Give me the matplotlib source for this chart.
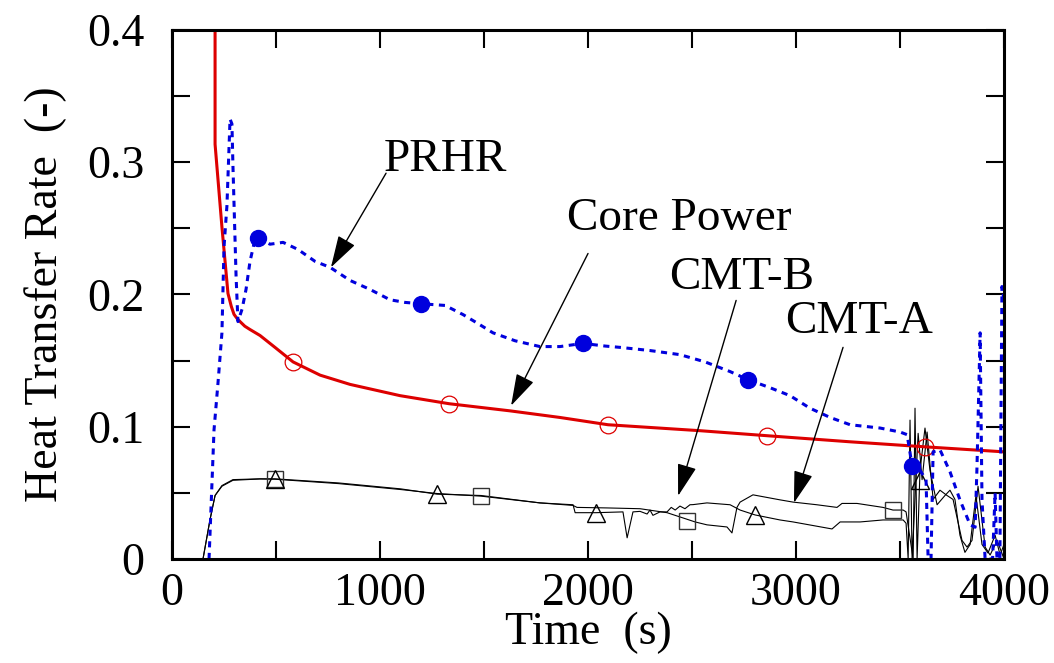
import matplotlib
matplotlib.use("Agg")
import matplotlib.pyplot as plt
from matplotlib.ticker import MultipleLocator, FuncFormatter

plt.rcParams['font.family'] = ['Liberation Serif', 'DejaVu Serif']

# ---- data ----
# core power (red solid)
core_t = [207, 207, 240, 269, 285, 298, 312, 327, 350, 375, 423, 495, 582, 712, 856,
          1096, 1332, 1625, 1865, 2096, 2538, 2861, 3260, 3620, 4000]
core_v = [0.45, 0.3136, 0.251, 0.2008, 0.191, 0.185, 0.182, 0.1795, 0.176, 0.1735,
          0.169, 0.160, 0.149, 0.139, 0.132, 0.1235, 0.1174, 0.112, 0.107, 0.1015,
          0.097, 0.0932, 0.0886, 0.0848, 0.081]

# PRHR (blue dotted)
prhr_t = [178, 202, 221, 240, 250, 264, 279, 288, 293, 308, 317, 337, 356, 375, 399,
          413, 471, 534, 606, 688, 760, 856, 952, 1048, 1120, 1197, 1313, 1399, 1471,
          1543, 1649, 1769, 1865, 1976, 2082, 2154, 2298, 2442, 2563, 2683, 2769, 2875,
          2971, 3067, 3164, 3260, 3404, 3500, 3534, 3558, 3596, 3625, 3635, 3649, 3659,
          3692, 3740, 3788, 3837, 3861, 3870, 3885, 3894, 3909, 3945, 3957, 3966, 3980,
          3990, 4000]
prhr_v = [0.0, 0.0977, 0.133, 0.171, 0.236, 0.267, 0.3326, 0.329, 0.297, 0.2136,
          0.1795, 0.189, 0.204, 0.225, 0.2417, 0.243, 0.238, 0.2394, 0.234, 0.225,
          0.2205, 0.2106, 0.2038, 0.196, 0.194, 0.193, 0.1917, 0.1848, 0.178, 0.171,
          0.165, 0.1606, 0.1606, 0.163, 0.161, 0.160, 0.1576, 0.1545, 0.149, 0.1417,
          0.1356, 0.1295, 0.1235, 0.114, 0.107, 0.1015, 0.099, 0.096, 0.094, 0.0705,
          0.067, 0.06, 0.0, 0.0, 0.081, 0.0826, 0.066, 0.0447, 0.0258, 0.024, 0.07,
          0.171, 0.045, 0.0, 0.0, 0.05, 0.0, 0.0, 0.206, 0.196]

# CMT-A (thin black, squares)
cmta_t = [149, 183, 207, 240, 293, 423, 495, 800, 1100, 1274, 1486, 1769, 1928, 1947,
          2091, 2250, 2380, 2515, 2572, 2668, 2692, 2716, 2731, 2793, 2923, 2986, 3100,
          3197, 3221, 3293, 3418, 3466, 3515, 3529, 3563, 3572, 3582, 3596, 3620, 3644,
          3678, 3716, 3740, 3764, 3788, 3812, 3837, 3865, 3894, 3923, 3957, 3981, 4000]
cmta_v = [0.0, 0.030, 0.048, 0.055, 0.0595, 0.0605, 0.0603, 0.057, 0.0525, 0.0495,
          0.0475, 0.0424, 0.0405, 0.039, 0.0386, 0.038, 0.035, 0.028, 0.0258, 0.0242,
          0.0197, 0.039, 0.043, 0.0485, 0.0447, 0.043, 0.041, 0.039, 0.042, 0.042,
          0.039, 0.037, 0.037, 0.0356, 0.0, 0.114, 0.0, 0.067, 0.099, 0.067, 0.041,
          0.048, 0.052, 0.045, 0.018, 0.005, 0.011, 0.048, 0.011, 0.0045, 0.018,
          0.003, 0.011]

# CMT-B (thin black, triangles)
cmtb_t = [149, 183, 207, 240, 293, 423, 495, 800, 1100, 1274, 1486, 1769, 1928, 1938,
          2038, 2168, 2188, 2216, 2250, 2284, 2298, 2312, 2346, 2380, 2400, 2419, 2442,
          2466, 2490, 2505, 2572, 2683, 2731, 2803, 2923, 2986, 3173, 3212, 3308, 3418,
          3515, 3529, 3539, 3548, 3558, 3587, 3606, 3630, 3659, 3692, 3726, 3755, 3798,
          3822, 3846, 3875, 3909, 3933, 3967, 4000]
cmtb_v = [0.0, 0.030, 0.048, 0.0555, 0.060, 0.0606, 0.0606, 0.0575, 0.053, 0.049,
          0.048, 0.0424, 0.041, 0.035, 0.035, 0.0356, 0.016, 0.0356, 0.036, 0.034,
          0.037, 0.033, 0.0356, 0.0356, 0.039, 0.037, 0.040, 0.038, 0.041, 0.0411,
          0.0424, 0.041, 0.037, 0.0333, 0.0295, 0.028, 0.0227, 0.028, 0.028, 0.0295,
          0.0295, 0.027, 0.0, 0.105, 0.0, 0.095, 0.06, 0.096, 0.045, 0.052, 0.048,
          0.045, 0.014, 0.009, 0.014, 0.055, 0.009, 0.003, 0.014, 0.0]

# symbols drawn on the curves
prhr_mk_t = [413, 1197, 1976, 2769, 3558]
prhr_mk_v = [0.243, 0.193, 0.163, 0.1356, 0.0705]
core_mk_t = [582, 1332, 2096, 2861, 3620]
core_mk_v = [0.149, 0.1174, 0.1015, 0.0932, 0.0848]
cmta_mk_t = [495, 1486, 2476, 3466]
cmta_mk_v = [0.0606, 0.0477, 0.0288, 0.0371]
cmtb_mk_t = [495, 1274, 2038, 2803, 3596]
cmtb_mk_v = [0.0606, 0.049, 0.0348, 0.0333, 0.0598]

# labels with their arrows
labels = ["PRHR", "Core Power", "CMT-B", "CMT-A"]
label_xy = [(1313, 0.302), (2440, 0.257), (2740, 0.213), (3305, 0.179)]
arrow_from = [(1029, 0.2917), (2000, 0.231), (2712, 0.1955), (3226, 0.160)]
arrow_to = [(764, 0.2205), (1630, 0.1159), (2433, 0.0477), (2990, 0.0424)]

fig = plt.figure(figsize=(10.54, 6.63), dpi=100)
ax = fig.add_axes([0.1632, 0.1569, 0.7894, 0.7979])

red = '#dd0000'
blue = '#0000dd'

ax.plot(cmta_t, cmta_v, color='k', lw=0.8)
ax.plot(cmtb_t, cmtb_v, color='k', lw=0.8)
ax.plot(cmta_mk_t, cmta_mk_v, ls='none', marker='s', ms=12, mfc='none', mec='#333333', mew=1.0)
ax.plot(cmtb_mk_t, cmtb_mk_v, ls='none', marker='^', ms=13, mfc='none', mec='k', mew=1.0)

ax.plot(core_t, core_v, color=red, lw=2.2)
ax.plot(core_mk_t, core_mk_v, ls='none', marker='o', ms=12, mfc='none', mec=red, mew=0.9)

ax.plot(prhr_t, prhr_v, color=blue, lw=2.2, dashes=(2.0, 1.8))
ax.plot(prhr_mk_t, prhr_mk_v, ls='none', marker='o', ms=11.5, color=blue)

for txt, (tx, ty), (sx, sy), (ex, ey) in zip(labels, label_xy, arrow_from, arrow_to):
    ax.text(tx, ty, txt, fontsize=34, ha='center', va='center')
    ax.annotate('', xy=(ex, ey), xytext=(sx, sy),
                arrowprops=dict(arrowstyle='-|>,head_length=1.0,head_width=0.3',
                                color='k', lw=1.0, mutation_scale=20, shrinkA=0, shrinkB=0))

ax.set_xlim(0, 4000)
ax.set_ylim(0, 0.4)
ax.xaxis.set_major_locator(MultipleLocator(1000))
ax.xaxis.set_minor_locator(MultipleLocator(500))
ax.yaxis.set_major_locator(MultipleLocator(0.1))
ax.yaxis.set_minor_locator(MultipleLocator(0.05))
ax.yaxis.set_major_formatter(FuncFormatter(lambda v, p: '0' if abs(v) < 1e-9 else '%.1f' % v))
ax.xaxis.set_major_formatter(FuncFormatter(lambda v, p: '%d' % v))

ax.tick_params(which='both', direction='in', top=True, right=True, length=13, width=1.5)
ax.tick_params(axis='y', which='major', pad=20, labelsize=33)
ax.tick_params(axis='x', which='major', pad=10, labelsize=33)
for s in ax.spines.values():
    s.set_linewidth(2.2)

ax.set_xlabel('Time  (s)', fontsize=33, labelpad=-3)
ax.set_ylabel('Heat Transfer Rate  (-)', fontsize=33, labelpad=14)

fig.savefig('out.png', dpi=100)
